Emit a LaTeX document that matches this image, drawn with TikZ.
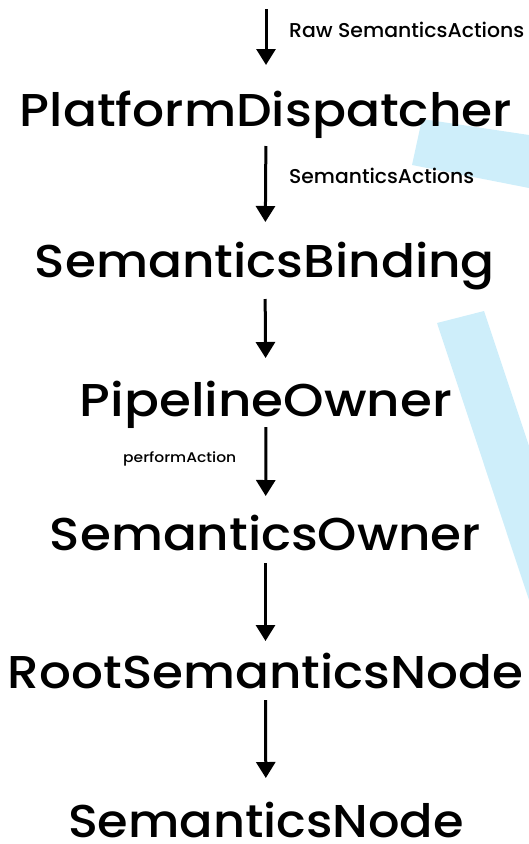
\documentclass[tikz,border=0pt]{standalone}
\usepackage{fontspec}
\usepackage{graphicx}
\setmainfont{Poppins}[UprightFont={* Medium}]
\usetikzlibrary{arrows.meta}
\definecolor{bandblue}{RGB}{206,238,250}
\newcommand\fitw[2]{\resizebox{#1}{\height}{#2}}
\begin{document}
\begin{tikzpicture}[x=1pt,y=-1pt,
  title/.style={anchor=base,inner sep=0pt,font=\fontsize{46}{50}\selectfont},
  lbl/.style={anchor=base west,inner sep=0pt,font=\fontsize{20}{24}\selectfont},
  smalllbl/.style={anchor=base west,inner sep=0pt,font=\fontsize{14}{16}\selectfont},
  arr/.style={line width=3pt,-{Triangle[width=19pt,length=16pt]}}]
\useasboundingbox (0,0) rectangle (529,844);
\fill[bandblue] (422,119) -- (529,135) -- (529,188) -- (412,165) -- cycle;
\fill[bandblue] (437,323) -- (484,311) -- (529,446) -- (529,600) -- cycle;
\coordinate (top) at (266,9);
\node[title] (pd) at (266,126) {\fitw{492pt}{PlatformDispatcher}};
\node[title] (sb) at (265,277) {\fitw{460pt}{SemanticsBinding}};
\node[title] (po) at (266,416) {\fitw{372pt}{PipelineOwner}};
\node[title] (so) at (265.5,550) {\fitw{431pt}{SemanticsOwner}};
\node[title] (rsn) at (265.5,688) {\fitw{515pt}{RootSemanticsNode}};
\node[title] (sn) at (266,837) {\fitw{396pt}{SemanticsNode}};
\node[lbl] (l1) at (289,37) {\fitw{235pt}{Raw SemanticsActions}};
\node[lbl] (l2) at (289,183) {\fitw{185pt}{SemanticsActions}};
\node[smalllbl] (l3) at (123,462) {\fitw{113pt}{performAction}};
\draw[arr,shorten >=61pt] (top) -- (pd.base);
\draw[arr,shorten <=20pt,shorten >=55pt] (pd.base) -- (sb.base);
\draw[arr,shorten <=22pt,shorten >=58pt] (sb.base) -- (po.base);
\draw[arr,shorten <=11pt,shorten >=54pt] (po.base) -- (so.base);
\draw[arr,shorten <=13pt,shorten >=47pt] (so.base) -- (rsn.base);
\draw[arr,shorten <=12pt,shorten >=59pt] (rsn.base) -- (sn.base);
\end{tikzpicture}
\end{document}
